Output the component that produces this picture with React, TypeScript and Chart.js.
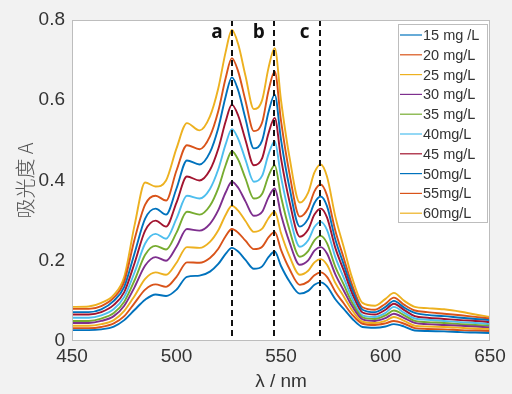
import React, { useEffect, useRef } from 'react';
import { Chart, registerables } from 'chart.js';

Chart.register(...registerables);

const wavelengths = [450, 458, 464, 470, 475, 480, 485, 490, 495, 500, 505, 511, 516, 520, 523.5, 526.5, 529.5, 533, 537, 541, 544, 547, 550, 554, 559, 563, 566, 569, 572, 576, 580, 584, 589, 595, 600, 604, 609, 614, 620, 628, 636, 643, 650];

const seriesLabels = ['15 mg /L', '20 mg/L', '25 mg/L', '30 mg/L', '35 mg/L', '40mg/L', '45 mg/L', '50mg/L', '55mg/L', '60mg/L'];

const s15 = [0.027, 0.027, 0.029, 0.036, 0.052, 0.078, 0.103, 0.116, 0.112, 0.128, 0.16, 0.163, 0.173, 0.192, 0.217, 0.232, 0.223, 0.202, 0.18, 0.186, 0.209, 0.223, 0.187, 0.149, 0.118, 0.125, 0.14, 0.146, 0.136, 0.104, 0.08, 0.056, 0.035, 0.033, 0.036, 0.042, 0.036, 0.026, 0.025, 0.024, 0.022, 0.021, 0.02];
const s20 = [0.032, 0.032, 0.035, 0.044, 0.062, 0.095, 0.128, 0.141, 0.135, 0.16, 0.196, 0.195, 0.207, 0.23, 0.261, 0.279, 0.27, 0.25, 0.229, 0.235, 0.258, 0.272, 0.227, 0.18, 0.14, 0.148, 0.164, 0.171, 0.16, 0.123, 0.094, 0.066, 0.043, 0.04, 0.044, 0.05, 0.043, 0.032, 0.03, 0.029, 0.027, 0.026, 0.025];
const s25 = [0.038, 0.038, 0.042, 0.052, 0.075, 0.113, 0.155, 0.171, 0.165, 0.195, 0.234, 0.232, 0.247, 0.276, 0.314, 0.337, 0.325, 0.299, 0.272, 0.28, 0.306, 0.322, 0.269, 0.212, 0.165, 0.175, 0.196, 0.204, 0.19, 0.145, 0.111, 0.077, 0.048, 0.045, 0.05, 0.06, 0.05, 0.038, 0.036, 0.035, 0.033, 0.031, 0.03];
const s30 = [0.045, 0.045, 0.05, 0.062, 0.088, 0.135, 0.188, 0.209, 0.2, 0.235, 0.279, 0.275, 0.292, 0.326, 0.37, 0.397, 0.382, 0.348, 0.312, 0.322, 0.358, 0.38, 0.315, 0.247, 0.19, 0.201, 0.225, 0.234, 0.218, 0.166, 0.126, 0.087, 0.054, 0.05, 0.057, 0.068, 0.057, 0.045, 0.042, 0.04, 0.038, 0.036, 0.034];
const s35 = [0.05, 0.05, 0.056, 0.07, 0.098, 0.152, 0.215, 0.237, 0.228, 0.27, 0.322, 0.315, 0.337, 0.381, 0.438, 0.473, 0.452, 0.405, 0.355, 0.367, 0.411, 0.438, 0.36, 0.278, 0.21, 0.224, 0.251, 0.262, 0.244, 0.185, 0.141, 0.096, 0.059, 0.055, 0.064, 0.076, 0.064, 0.05, 0.047, 0.045, 0.042, 0.04, 0.038];
const s40 = [0.058, 0.058, 0.064, 0.08, 0.11, 0.172, 0.243, 0.267, 0.255, 0.305, 0.362, 0.355, 0.379, 0.428, 0.49, 0.528, 0.504, 0.452, 0.397, 0.412, 0.465, 0.498, 0.409, 0.314, 0.235, 0.251, 0.284, 0.297, 0.277, 0.209, 0.158, 0.107, 0.064, 0.06, 0.07, 0.085, 0.07, 0.056, 0.053, 0.05, 0.047, 0.045, 0.042];
const s45 = [0.066, 0.066, 0.072, 0.09, 0.122, 0.195, 0.275, 0.3, 0.285, 0.345, 0.41, 0.4, 0.426, 0.479, 0.547, 0.589, 0.562, 0.501, 0.438, 0.456, 0.517, 0.556, 0.455, 0.349, 0.26, 0.278, 0.315, 0.33, 0.308, 0.232, 0.176, 0.119, 0.071, 0.066, 0.078, 0.093, 0.077, 0.062, 0.058, 0.055, 0.052, 0.05, 0.047];
const s50 = [0.072, 0.072, 0.079, 0.1, 0.135, 0.22, 0.305, 0.33, 0.315, 0.38, 0.45, 0.44, 0.47, 0.531, 0.609, 0.657, 0.625, 0.554, 0.48, 0.5, 0.57, 0.614, 0.502, 0.384, 0.285, 0.305, 0.344, 0.36, 0.336, 0.253, 0.191, 0.13, 0.078, 0.072, 0.085, 0.1, 0.083, 0.07, 0.065, 0.062, 0.058, 0.055, 0.052];
const s55 = [0.08, 0.08, 0.087, 0.108, 0.148, 0.255, 0.34, 0.362, 0.35, 0.425, 0.488, 0.478, 0.51, 0.573, 0.655, 0.705, 0.672, 0.599, 0.523, 0.545, 0.623, 0.672, 0.549, 0.419, 0.31, 0.331, 0.373, 0.39, 0.363, 0.275, 0.207, 0.14, 0.084, 0.078, 0.093, 0.108, 0.09, 0.076, 0.072, 0.068, 0.064, 0.06, 0.056];
const s60 = [0.085, 0.086, 0.095, 0.115, 0.16, 0.29, 0.395, 0.385, 0.4, 0.48, 0.543, 0.525, 0.56, 0.63, 0.72, 0.775, 0.74, 0.661, 0.578, 0.601, 0.68, 0.73, 0.6, 0.46, 0.345, 0.37, 0.42, 0.44, 0.41, 0.31, 0.234, 0.158, 0.095, 0.088, 0.105, 0.12, 0.1, 0.085, 0.082, 0.079, 0.073, 0.066, 0.06];

const seriesValues = [s15, s20, s25, s30, s35, s40, s45, s50, s55, s60];
const seriesColors = ['#0072BD', '#D95319', '#EDB120', '#7E2F8E', '#77AC30', '#4DBEEE', '#A2142F', '#0072BD', '#D95319', '#EDB120'];

const peakPositions = [526.5, 546.5, 568.5];
const peakLabels = ['a', 'b', 'c'];

const xTicks = [450, 500, 550, 600, 650];
const yTicks = [0, 0.2, 0.4, 0.6, 0.8];

const decorPlugin = {
  id: 'decor',
  beforeDraw(chart: any) {
    const { ctx, chartArea: ca, width, height } = chart;
    ctx.save();
    ctx.fillStyle = '#f2f2f2';
    ctx.fillRect(0, 0, width, height);
    ctx.fillStyle = '#ffffff';
    ctx.fillRect(ca.left, ca.top, ca.right - ca.left, ca.bottom - ca.top);
    ctx.restore();
  },
  afterDatasetsDraw(chart: any) {
    const { ctx, chartArea: ca, scales } = chart;
    const xs = scales.x;
    ctx.save();
    ctx.strokeStyle = '#111111';
    ctx.lineWidth = 2;
    ctx.setLineDash([6, 4]);
    peakPositions.forEach((p) => {
      const x = Math.round(xs.getPixelForValue(p));
      ctx.beginPath();
      ctx.moveTo(x, ca.top);
      ctx.lineTo(x, ca.bottom);
      ctx.stroke();
    });
    ctx.setLineDash([]);
    ctx.fillStyle = '#111111';
    ctx.font = 'bold 19px "Open Sans", "DejaVu Sans", sans-serif';
    ctx.textAlign = 'center';
    ctx.textBaseline = 'middle';
    peakPositions.forEach((p, i) => {
      const x = xs.getPixelForValue(p);
      ctx.fillText(peakLabels[i], x - 15, ca.top + 13);
    });
    ctx.strokeStyle = '#bdbdbd';
    ctx.lineWidth = 1;
    ctx.strokeRect(ca.left + 0.5, ca.top + 0.5, ca.right - ca.left - 1, ca.bottom - ca.top - 1);
    const lx = 398, ly = 24, lw = 89, lh = 198;
    ctx.fillStyle = '#ffffff';
    ctx.fillRect(lx, ly, lw, lh);
    ctx.strokeStyle = '#bdbdbd';
    ctx.strokeRect(lx + 0.5, ly + 0.5, lw, lh);
    ctx.font = '14.5px "Liberation Sans", Arial, sans-serif';
    ctx.textAlign = 'left';
    ctx.textBaseline = 'middle';
    chart.data.datasets.forEach((ds: any, i: number) => {
      const y = ly + 11 + i * 19.8;
      ctx.strokeStyle = ds.borderColor;
      ctx.lineWidth = 1.2;
      ctx.beginPath();
      ctx.moveTo(lx + 2, y);
      ctx.lineTo(lx + 24, y);
      ctx.stroke();
      ctx.fillStyle = '#333333';
      ctx.fillText(ds.label, lx + 25, y + 1);
    });
    ctx.restore();
  },
};

export default function App() {
  const canvasRef = useRef<HTMLCanvasElement | null>(null);

  useEffect(() => {
    const canvas = canvasRef.current;
    if (!canvas) return;
    const datasets = seriesValues.map((vals, si) => ({
      label: seriesLabels[si],
      data: wavelengths.map((w, i) => ({ x: w, y: vals[i] })),
      borderColor: seriesColors[si],
      backgroundColor: seriesColors[si],
      borderWidth: 1.9,
      pointRadius: 0,
      fill: false,
      cubicInterpolationMode: 'monotone' as const,
    }));
    const chart = new Chart(canvas, {
      type: 'line',
      data: { datasets },
      options: {
        responsive: false,
        animation: false,
        events: [],
        layout: { padding: { top: 20, right: 22, left: 0, bottom: 0 } },
        plugins: { legend: { display: false }, tooltip: { enabled: false } },
        scales: {
          x: {
            type: 'linear',
            min: 450,
            max: 650,
            afterBuildTicks: (s: any) => { s.ticks = xTicks.map((v) => ({ value: v })); },
            afterFit: (s: any) => { s.height = 53; },
            grid: { display: false, drawTicks: false },
            border: { display: false },
            ticks: {
              padding: 4,
              color: '#333333',
              font: { size: 19, family: '"Liberation Sans", Arial, sans-serif' },
              maxRotation: 0,
              autoSkip: false,
            },
            title: {
              display: true,
              text: 'λ / nm',
              color: '#333333',
              font: { size: 19, family: '"Liberation Sans", Arial, sans-serif' },
              padding: { top: 0, bottom: 1 },
            },
          },
          y: {
            min: 0,
            max: 0.8,
            afterBuildTicks: (s: any) => { s.ticks = yTicks.map((v) => ({ value: v })); },
            afterFit: (s: any) => { s.width = 72; },
            grid: { display: false, drawTicks: false },
            border: { display: false },
            ticks: {
              padding: 7,
              color: '#333333',
              font: { size: 19, family: '"Liberation Sans", Arial, sans-serif' },
              callback: (v: any) => (Number(v) === 0 ? '0' : Number(v).toFixed(1)),
            },
            title: {
              display: true,
              text: '吸光度 A',
              color: '#555555',
              font: { size: 20, family: '"Noto Sans CJK SC", sans-serif', weight: '300' as any },
              padding: { top: 13, bottom: 0 },
            },
          },
        },
      },
      plugins: [decorPlugin],
    });
    return () => chart.destroy();
  }, []);

  return (
    <div style={{ position: 'absolute', left: 0, top: 0, width: 512, height: 394 }}>
      <canvas ref={canvasRef} width={512} height={394} style={{ display: 'block' }} />
    </div>
  );
}
